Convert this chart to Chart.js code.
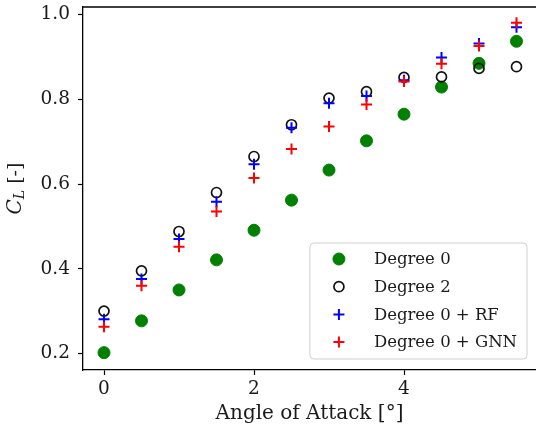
<!DOCTYPE html>
<html lang="en">
<head>
  <meta charset="UTF-8">
  <title>C_L vs angle of attack</title>
  <script src="https://cdn.jsdelivr.net/npm/chart.js@4.4.0/dist/chart.umd.min.js"></script>
  <style>
    html, body { margin: 0; padding: 0; background: #fff; }
  </style>
</head>
<body>
  <canvas id="myChart" width="536" height="434"></canvas>
  <script>
    // angle of attack [deg]
    const angles = [0, 0.5, 1, 1.5, 2, 2.5, 3, 3.5, 4, 4.5, 5, 5.5]
    // lift coefficient per method
    const degree0    = [0.202, 0.277, 0.350, 0.421, 0.491, 0.562, 0.633, 0.702, 0.765, 0.829, 0.885, 0.937]
    const degree2    = [0.300, 0.395, 0.488, 0.580, 0.665, 0.740, 0.803, 0.818, 0.852, 0.853, 0.873, 0.877]
    const degree0RF  = [0.281, 0.376, 0.470, 0.558, 0.647, 0.733, 0.791, 0.808, 0.845, 0.899, 0.932, 0.970]
    const degree0GNN = [0.263, 0.360, 0.452, 0.535, 0.614, 0.683, 0.736, 0.788, 0.842, 0.884, 0.926, 0.981]
    const seriesLabels = ['Degree 0', 'Degree 2', 'Degree 0 + RF', 'Degree 0 + GNN']
    const xTicks = [0, 2, 4]
    const yTicks = [0.2, 0.4, 0.6, 0.8, 1.0]

    const serif = '"DejaVu Serif", "Liberation Serif", serif'
    const ink = '#1a1a1a'

    const toPoints = ys => angles.map((x, i) => ({ x, y: ys[i] }))
    const noPad = () => ({ left: 0, top: 0, right: 0, bottom: 0 })

    // top spine (right one falls off the canvas like in the figure)
    const frame = {
      id: 'frame',
      afterDraw(chart) {
        const { ctx, chartArea: a } = chart
        ctx.save()
        ctx.strokeStyle = '#000'
        ctx.lineWidth = 1.3
        ctx.beginPath()
        ctx.moveTo(a.left, a.top)
        ctx.lineTo(a.right, a.top)
        ctx.stroke()
        ctx.restore()
      }
    }

    // y title with italic C and subscript L
    const yTitle = {
      id: 'yTitle',
      afterDraw(chart) {
        const { ctx, chartArea: a } = chart
        const fC = 'italic 20px ' + serif
        const fL = 'italic 14px ' + serif
        const fR = '19px ' + serif
        ctx.save()
        ctx.font = fC; const wC = ctx.measureText('C').width
        ctx.font = fL; const wL = ctx.measureText('L').width
        ctx.font = fR; const wR = ctx.measureText(' [-]').width
        const total = wC + wL + wR
        ctx.translate(21, (a.top + a.bottom) / 2)
        ctx.rotate(-Math.PI / 2)
        ctx.fillStyle = ink
        ctx.textBaseline = 'alphabetic'
        ctx.textAlign = 'left'
        let x = -total / 2
        ctx.font = fC; ctx.fillText('C', x, 0); x += wC
        ctx.font = fL; ctx.fillText('L', x, 3); x += wL
        ctx.font = fR; ctx.fillText(' [-]', x, 0)
        ctx.restore()
      }
    }

    // legend box inside the lower right corner of the axes
    const boxLegend = {
      id: 'boxLegend',
      afterDraw(chart) {
        const { ctx, chartArea: a } = chart
        const sets = chart.data.datasets
        ctx.save()
        ctx.font = '16.5px ' + serif
        const maxW = Math.max(...sets.map(d => ctx.measureText(d.label).width))
        const w = 64 + maxW + 10
        const h = 116
        const x = a.right - 9 - w
        const y = a.bottom - 11 - h
        ctx.beginPath()
        ctx.roundRect(x, y, w, h, 4)
        ctx.fillStyle = 'rgba(255,255,255,0.85)'
        ctx.fill()
        ctx.strokeStyle = '#d0d0d0'
        ctx.lineWidth = 1
        ctx.stroke()
        sets.forEach((d, i) => {
          const cy = y + 16 + i * 27.7
          ctx.fillStyle = d.backgroundColor
          ctx.strokeStyle = d.borderColor
          ctx.lineWidth = d.borderWidth
          Chart.helpers.drawPoint(ctx, {
            pointStyle: d.pointStyle, radius: d.pointRadius,
            borderWidth: d.borderWidth, rotation: 0
          }, x + 29, cy)
          ctx.fillStyle = ink
          ctx.textBaseline = 'middle'
          ctx.textAlign = 'left'
          ctx.fillText(d.label, x + 64, cy + 1)
        })
        ctx.restore()
      }
    }

    const axisCommon = {
      grid: { drawOnChartArea: false, drawTicks: true, tickLength: 5, color: '#000', tickWidth: 1.2 },
      border: { display: true, color: '#000', width: 1.3 }
    }

    new Chart(document.getElementById('myChart'), {
      type: 'scatter',
      data: {
        datasets: [
          {
            label: seriesLabels[0], data: toPoints(degree0), order: 4,
            pointStyle: 'circle', pointRadius: 6, borderWidth: 1,
            backgroundColor: '#008000', borderColor: '#008000'
          },
          {
            label: seriesLabels[1], data: toPoints(degree2), order: 3,
            pointStyle: 'circle', pointRadius: 5, borderWidth: 1.7,
            backgroundColor: 'rgba(0,0,0,0)', borderColor: '#111'
          },
          {
            label: seriesLabels[2], data: toPoints(degree0RF), order: 2,
            pointStyle: 'cross', pointRadius: 5.5, borderWidth: 2,
            backgroundColor: '#0000ff', borderColor: '#0000ff'
          },
          {
            label: seriesLabels[3], data: toPoints(degree0GNN), order: 1,
            pointStyle: 'cross', pointRadius: 5.5, borderWidth: 2,
            backgroundColor: '#ff0000', borderColor: '#ff0000'
          }
        ]
      },
      options: {
        responsive: false,
        animation: false,
        layout: { autoPadding: false, padding: { top: 7, right: 0, bottom: 0, left: 0 } },
        plugins: {
          legend: { display: false },
          tooltip: { enabled: false }
        },
        scales: {
          x: {
            ...axisCommon,
            type: 'linear',
            min: -0.28,
            max: 5.76,
            afterBuildTicks: s => { s.ticks = xTicks.map(v => ({ value: v })) },
            afterFit: s => { s.height = 64; s.getPadding = noPad },
            ticks: { font: { family: serif, size: 18.5 }, color: ink, padding: 3, callback: v => String(v) },
            title: {
              display: true, text: 'Angle of Attack [°]', color: ink,
              font: { family: serif, size: 20 }, padding: { top: 0, bottom: 8 }
            }
          },
          y: {
            ...axisCommon,
            type: 'linear',
            min: 0.161,
            max: 1.018,
            afterBuildTicks: s => { s.ticks = yTicks.map(v => ({ value: v })) },
            afterFit: s => { s.width = 83; s.getPadding = noPad },
            ticks: { font: { family: serif, size: 18.5 }, color: ink, padding: 8, callback: v => v.toFixed(1) }
          }
        }
      },
      plugins: [frame, yTitle, boxLegend]
    });
  </script>
</body>
</html>
